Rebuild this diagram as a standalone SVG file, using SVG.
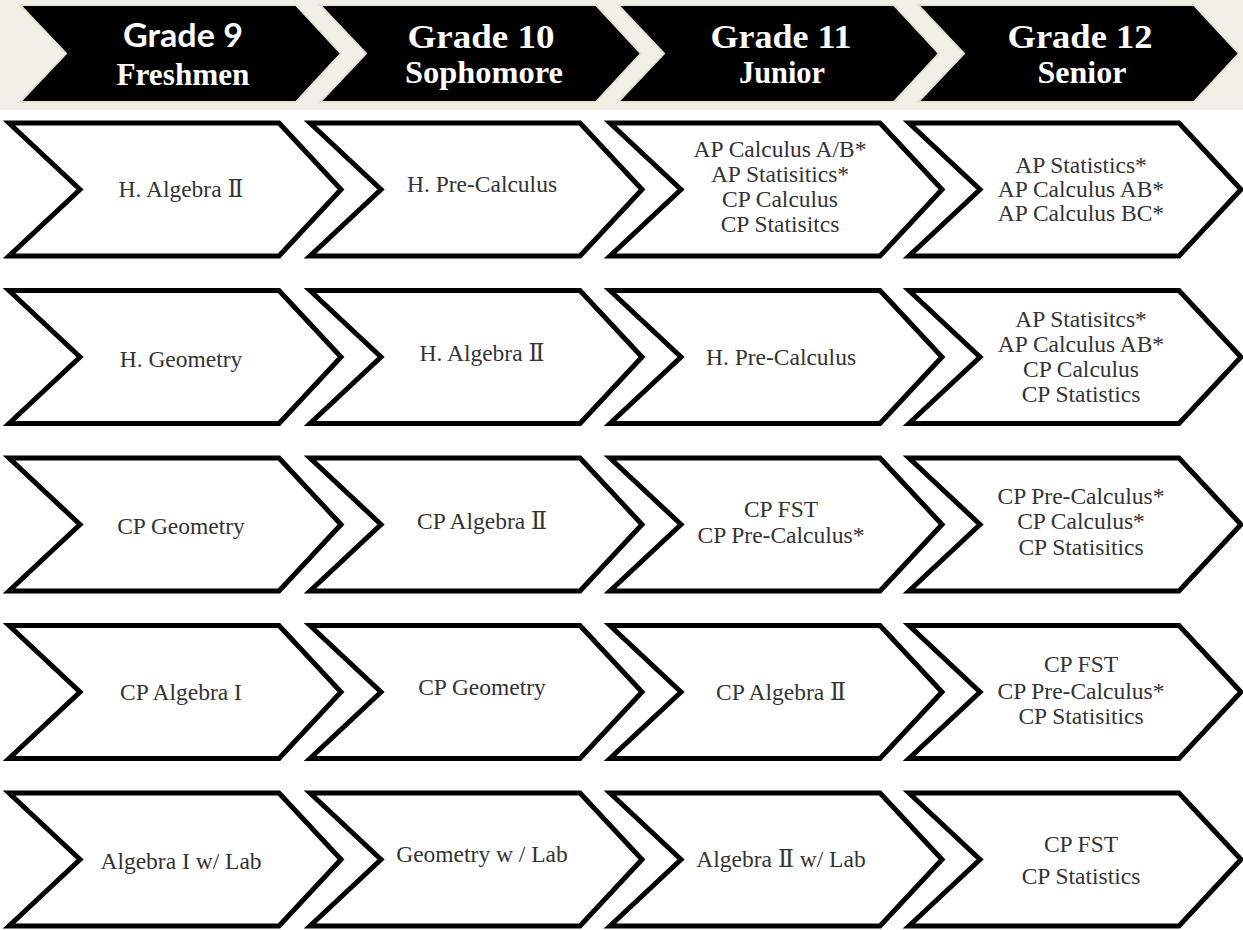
<svg xmlns="http://www.w3.org/2000/svg" width="1243" height="930" viewBox="0 0 1243 930">
<style>
.hdr{fill:#000;stroke:#e6e4d6;stroke-width:2;stroke-linejoin:miter}
.chev{fill:#fff;stroke:#000;stroke-width:5;stroke-linejoin:miter}
.h1{font-family:"Liberation Serif",serif;font-weight:bold;font-size:33px;fill:#fff;text-anchor:middle}
.h1s{font-family:Lato,"Liberation Sans",sans-serif;font-weight:bold;font-size:32px;fill:#fff;text-anchor:middle}
.h2{font-family:"Liberation Serif",serif;font-weight:bold;font-size:31px;fill:#fff;text-anchor:middle}
.t{font-family:"Liberation Serif","DejaVu Serif",serif;font-size:23.5px;fill:#333;text-anchor:middle}
</style>
<rect x="0" y="0" width="1243" height="930" fill="#fff"/>
<rect x="0" y="0" width="1243" height="110" fill="#f1f0e6"/>

<g id="hdr-g9">
<polygon class="hdr" points="20,5 296,5 341,53.5 296,102 20,102 66,53.5"/>
<text class="h1s" x="183" y="47" textLength="120" lengthAdjust="spacingAndGlyphs">Grade 9</text>
<text class="h2" x="183" y="85" textLength="133" lengthAdjust="spacingAndGlyphs">Freshmen</text>
</g>
<g id="hdr-g10">
<polygon class="hdr" points="320,5 596,5 641,53.5 596,102 320,102 366,53.5"/>
<text class="h1" x="481" y="48" textLength="147" lengthAdjust="spacingAndGlyphs">Grade 10</text>
<text class="h2" x="484" y="83" textLength="158" lengthAdjust="spacingAndGlyphs">Sophomore</text>
</g>
<g id="hdr-g11">
<polygon class="hdr" points="618,5 894,5 939,53.5 894,102 618,102 664,53.5"/>
<text class="h1" x="781" y="48" textLength="141" lengthAdjust="spacingAndGlyphs">Grade 11</text>
<text class="h2" x="782" y="83" textLength="86" lengthAdjust="spacingAndGlyphs">Junior</text>
</g>
<g id="hdr-g12">
<polygon class="hdr" points="918,5 1194,5 1239,53.5 1194,102 918,102 964,53.5"/>
<text class="h1" x="1080" y="48" textLength="145" lengthAdjust="spacingAndGlyphs">Grade 12</text>
<text class="h2" x="1082" y="83" textLength="89" lengthAdjust="spacingAndGlyphs">Senior</text>
</g>

<g id="connectors"></g>

<!-- Row 1 -->
<g id="r1c1">
<polygon class="chev" points="9,123 279,123 341,189.5 279,256 9,256 80,189.5"/>
<text class="t" x="181" y="197">H. Algebra Ⅱ</text>
</g>
<g id="r1c2">
<polygon class="chev" points="310,123 580,123 642,189.5 580,256 310,256 381,189.5"/>
<text class="t" x="482" y="192">H. Pre-Calculus</text>
</g>
<g id="r1c3">
<polygon class="chev" points="610,123 880,123 942,189.5 880,256 610,256 681,189.5"/>
<text class="t" x="780" y="157">AP Calculus A/B*</text>
<text class="t" x="780" y="182">AP Statisitics*</text>
<text class="t" x="780" y="207">CP Calculus</text>
<text class="t" x="780" y="232">CP Statisitcs</text>
</g>
<g id="r1c4">
<polygon class="chev" points="909,123 1179,123 1241,189.5 1179,256 909,256 980,189.5"/>
<text class="t" x="1081" y="173">AP Statistics*</text>
<text class="t" x="1081" y="197">AP Calculus AB*</text>
<text class="t" x="1081" y="221">AP Calculus BC*</text>
</g>

<!-- Row 2 -->
<g id="r2c1">
<polygon class="chev" points="9,290.5 279,290.5 341,357 279,423.5 9,423.5 80,357"/>
<text class="t" x="181" y="367">H. Geometry</text>
</g>
<g id="r2c2">
<polygon class="chev" points="310,290.5 580,290.5 642,357 580,423.5 310,423.5 381,357"/>
<text class="t" x="482" y="361">H. Algebra Ⅱ</text>
</g>
<g id="r2c3">
<polygon class="chev" points="610,290.5 880,290.5 942,357 880,423.5 610,423.5 681,357"/>
<text class="t" x="781" y="365">H. Pre-Calculus</text>
</g>
<g id="r2c4">
<polygon class="chev" points="909,290.5 1179,290.5 1241,357 1179,423.5 909,423.5 980,357"/>
<text class="t" x="1081" y="327">AP Statisitcs*</text>
<text class="t" x="1081" y="352">AP Calculus AB*</text>
<text class="t" x="1081" y="377">CP Calculus</text>
<text class="t" x="1081" y="402">CP Statistics</text>
</g>

<!-- Row 3 -->
<g id="r3c1">
<polygon class="chev" points="9,458 279,458 341,524.5 279,591 9,591 80,524.5"/>
<text class="t" x="181" y="534">CP Geometry</text>
</g>
<g id="r3c2">
<polygon class="chev" points="310,458 580,458 642,524.5 580,591 310,591 381,524.5"/>
<text class="t" x="482" y="529">CP Algebra Ⅱ</text>
</g>
<g id="r3c3">
<polygon class="chev" points="610,458 880,458 942,524.5 880,591 610,591 681,524.5"/>
<text class="t" x="781" y="517">CP FST</text>
<text class="t" x="781" y="543">CP Pre-Calculus*</text>
</g>
<g id="r3c4">
<polygon class="chev" points="909,458 1179,458 1241,524.5 1179,591 909,591 980,524.5"/>
<text class="t" x="1081" y="504">CP Pre-Calculus*</text>
<text class="t" x="1081" y="529">CP Calculus*</text>
<text class="t" x="1081" y="555">CP Statisitics</text>
</g>

<!-- Row 4 -->
<g id="r4c1">
<polygon class="chev" points="9,625.5 279,625.5 341,692 279,758.5 9,758.5 80,692"/>
<text class="t" x="181" y="700">CP Algebra I</text>
</g>
<g id="r4c2">
<polygon class="chev" points="310,625.5 580,625.5 642,692 580,758.5 310,758.5 381,692"/>
<text class="t" x="482" y="695">CP Geometry</text>
</g>
<g id="r4c3">
<polygon class="chev" points="610,625.5 880,625.5 942,692 880,758.5 610,758.5 681,692"/>
<text class="t" x="781" y="700">CP Algebra Ⅱ</text>
</g>
<g id="r4c4">
<polygon class="chev" points="909,625.5 1179,625.5 1241,692 1179,758.5 909,758.5 980,692"/>
<text class="t" x="1081" y="672">CP FST</text>
<text class="t" x="1081" y="699">CP Pre-Calculus*</text>
<text class="t" x="1081" y="724">CP Statisitics</text>
</g>

<!-- Row 5 -->
<g id="r5c1">
<polygon class="chev" points="9,793 279,793 341,859.5 279,926 9,926 80,859.5"/>
<text class="t" x="181" y="869">Algebra I w/ Lab</text>
</g>
<g id="r5c2">
<polygon class="chev" points="310,793 580,793 642,859.5 580,926 310,926 381,859.5"/>
<text class="t" x="482" y="862">Geometry w / Lab</text>
</g>
<g id="r5c3">
<polygon class="chev" points="610,793 880,793 942,859.5 880,926 610,926 681,859.5"/>
<text class="t" x="781" y="867">Algebra Ⅱ w/ Lab</text>
</g>
<g id="r5c4">
<polygon class="chev" points="909,793 1179,793 1241,859.5 1179,926 909,926 980,859.5"/>
<text class="t" x="1081" y="852">CP FST</text>
<text class="t" x="1081" y="884">CP Statistics</text>
</g>
</svg>
